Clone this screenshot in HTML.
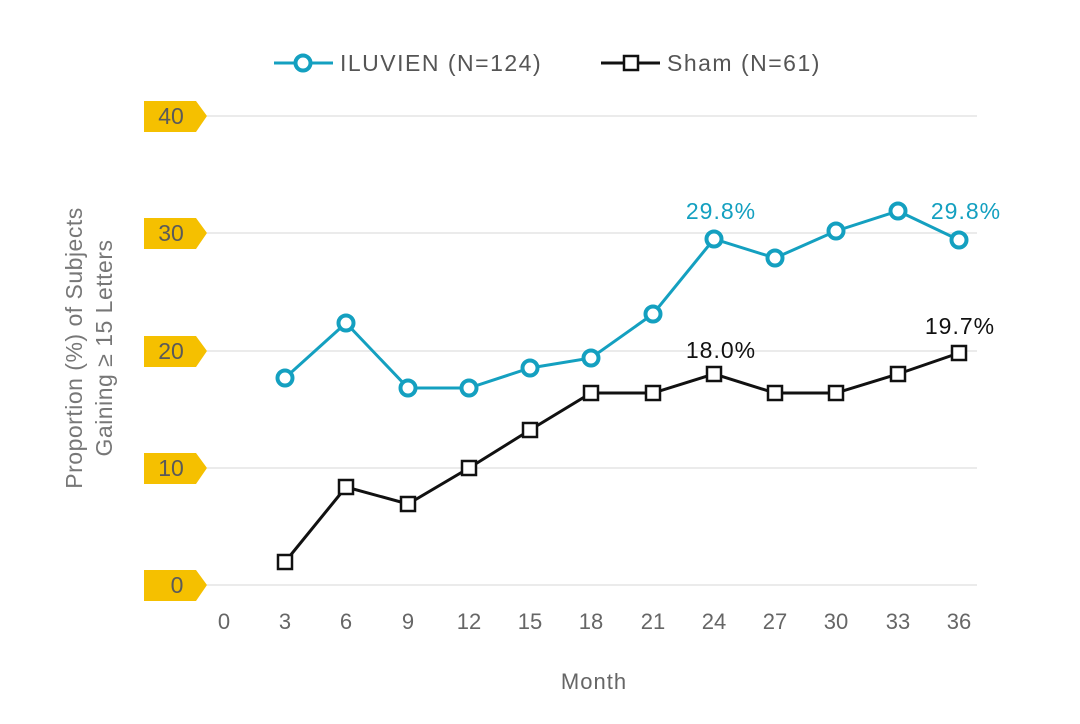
<!DOCTYPE html>
<html><head><meta charset="utf-8"><style>body{margin:0;background:#fff}svg{display:block}text{font-family:"Liberation Sans",sans-serif}</style></head>
<body>
<svg width="1080" height="724" viewBox="0 0 1080 724" xmlns="http://www.w3.org/2000/svg">
<g stroke="#ebebeb" stroke-width="2">
<line x1="207" y1="116" x2="977" y2="116"/><line x1="207" y1="233" x2="977" y2="233"/><line x1="207" y1="351" x2="977" y2="351"/><line x1="207" y1="468" x2="977" y2="468"/><line x1="207" y1="585" x2="977" y2="585"/>
</g>
<g fill="#f5c000">
<polygon points="144,101 196,101 207,116 196,132 144,132"/>
<polygon points="144,218 196,218 207,233 196,249 144,249"/>
<polygon points="144,336 196,336 207,351 196,367 144,367"/>
<polygon points="144,453 196,453 207,468 196,484 144,484"/>
<polygon points="144,570 196,570 207,585 196,601 144,601"/>
</g>
<g fill="#5a5a5a" font-size="23" text-anchor="middle">
<text x="171" y="124">40</text><text x="171" y="241">30</text><text x="171" y="359">20</text><text x="171" y="476">10</text><text x="177" y="593">0</text>
</g>
<g fill="#666" font-size="22" text-anchor="middle">
<text x="224" y="629">0</text><text x="285" y="629">3</text><text x="346" y="629">6</text><text x="408" y="629">9</text><text x="469" y="629">12</text><text x="530" y="629">15</text><text x="591" y="629">18</text><text x="653" y="629">21</text><text x="714" y="629">24</text><text x="775" y="629">27</text><text x="836" y="629">30</text><text x="898" y="629">33</text><text x="959" y="629">36</text>
<text x="594" y="689" letter-spacing="1">Month</text>
</g>
<g fill="#777" font-size="23" text-anchor="middle" letter-spacing="0.5">
<text transform="translate(82,348) rotate(-90)">Proportion (%) of Subjects</text>
<text transform="translate(112,348) rotate(-90)">Gaining ≥ 15 Letters</text>
</g>
<polyline fill="none" stroke="#14a0c0" stroke-width="3" points="285,378 346,323 408,388 469,388 530,368 591,358 653,314 714,239 775,258 836,231 898,211 959,240"/>
<g fill="#fff" stroke="#14a0c0" stroke-width="4">
<circle cx="285" cy="378" r="7.5"/><circle cx="346" cy="323" r="7.5"/><circle cx="408" cy="388" r="7.5"/><circle cx="469" cy="388" r="7.5"/><circle cx="530" cy="368" r="7.5"/><circle cx="591" cy="358" r="7.5"/><circle cx="653" cy="314" r="7.5"/><circle cx="714" cy="239" r="7.5"/><circle cx="775" cy="258" r="7.5"/><circle cx="836" cy="231" r="7.5"/><circle cx="898" cy="211" r="7.5"/><circle cx="959" cy="240" r="7.5"/>
</g>
<polyline fill="none" stroke="#111" stroke-width="3" points="285,562 346,487 408,504 469,468 530,430 591,393 653,393 714,374 775,393 836,393 898,374 959,353"/>
<g fill="#fff" stroke="#111" stroke-width="2.5">
<rect x="278" y="555" width="14" height="14"/><rect x="339" y="480" width="14" height="14"/><rect x="401" y="497" width="14" height="14"/><rect x="462" y="461" width="14" height="14"/><rect x="523" y="423" width="14" height="14"/><rect x="584" y="386" width="14" height="14"/><rect x="646" y="386" width="14" height="14"/><rect x="707" y="367" width="14" height="14"/><rect x="768" y="386" width="14" height="14"/><rect x="829" y="386" width="14" height="14"/><rect x="891" y="367" width="14" height="14"/><rect x="952" y="346" width="14" height="14"/>
</g>
<g font-size="23" text-anchor="middle" letter-spacing="1">
<text x="721" y="219" fill="#14a0c0">29.8%</text><text x="966" y="219" fill="#14a0c0">29.8%</text>
<text x="721" y="358" fill="#111">18.0%</text><text x="960" y="334" fill="#111">19.7%</text>
</g>
<line x1="274" y1="63" x2="333" y2="63" stroke="#14a0c0" stroke-width="3"/>
<circle cx="303" cy="63" r="7.5" fill="#fff" stroke="#14a0c0" stroke-width="4"/>
<text x="340" y="71" font-size="23" fill="#555" letter-spacing="1.5">ILUVIEN (N=124)</text>
<line x1="601" y1="63" x2="660" y2="63" stroke="#111" stroke-width="3"/>
<rect x="624" y="56" width="14" height="14" fill="#fff" stroke="#111" stroke-width="2.5"/>
<text x="667" y="71" font-size="23" fill="#555" letter-spacing="1.5">Sham (N=61)</text>
</svg>
</body></html>
